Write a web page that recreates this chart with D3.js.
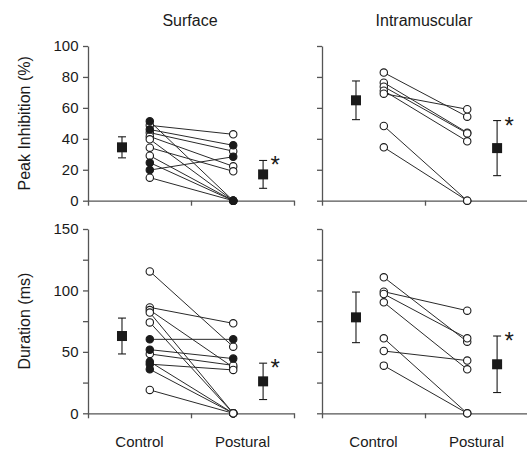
<!DOCTYPE html>
<html>
<head>
<meta charset="utf-8">
<script src="https://cdn.jsdelivr.net/npm/d3@7"></script>
<style>
  body { margin: 0; background: #fff; }
  svg { font-family: "Liberation Sans", Arial, sans-serif; }
</style>
</head>
<body>
<svg id="chart" width="527" height="452"></svg>
<script>
const groups = ["Control", "Postural"];
const muscles = ["Surface", "Intramuscular"];

// peak inhibition (%), one entry per subject
const surfPiCtrl = [51.3, 48.7, 46.0, 44.0, 41.5, 39.7, 34.3, 29.1, 24.6, 19.8, 14.9];
const surfPiPost = [0, 42.9, 35.8, 32.0, 22.2, 0, 19.0, 0, 0, 28.4, 0];
const surfPiCtrlFill = [1, 0, 1, 0, 0, 0, 0, 0, 1, 1, 0];
const surfPiPostFill = [1, 0, 1, 0, 0, 0, 0, 0, 1, 1, 0];

const intraPiCtrl = [82.8, 76.3, 73.7, 71.1, 69.2, 48.3, 34.5];
const intraPiPost = [54.3, 44.0, 43.5, 38.4, 59.1, 0, 0];

// duration (ms)
const surfDurCtrl = [115.5, 86.2, 84.0, 82.0, 74.0, 60.2, 51.8, 48.3, 42.0, 40.0, 35.8, 19.0];
const surfDurPost = [54.2, 73.2, 37.4, 0, 0, 60.2, 44.5, 39.0, 0, 35.3, 0, 0];
const surfDurCtrlFill = [0, 0, 0, 0, 0, 1, 1, 0, 1, 1, 1, 0];
const surfDurPostFill = [0, 0, 0, 0, 0, 1, 1, 0, 0, 0, 0, 0];

const intraDurCtrl = [110.7, 99.0, 97.1, 90.3, 61.0, 50.7, 38.8];
const intraDurPost = [58.3, 83.5, 61.0, 35.8, 0, 42.9, 0];

// group means and error bars (order: surf PI, intra PI, surf dur, intra dur)
const meanCtrl = [34.5, 64.9, 62.9, 78.1];
const errCtrl = [6.8, 12.5, 14.6, 20.6];
const meanPost = [17.0, 34.0, 26.0, 39.9];
const errPost = [9.0, 17.8, 14.8, 23.0];

const piTicks = [0, 20, 40, 60, 80, 100];
const durTicks = [0, 25, 50, 75, 100, 125, 150];
const durLabels = [0, 50, 100, 150];

const svg = d3.select("#chart");
const axisColor = "#555";
const ink = "#1a1a1a";

const cols = [{x0: 88, x1: 294}, {x0: 322, x1: 528}];
const rows = [
  {y0: 200.7, y1: 46, max: 100, ticks: piTicks, labels: piTicks, title: "Peak Inhibition (%)"},
  {y0: 413.3, y1: 229, max: 150, ticks: durTicks, labels: durLabels, title: "Duration (ms)"}
];

function drawPanel(r, c, ctrl, post, ctrlFill, postFill, k) {
  let row = rows[r], col = cols[c];
  let x = d3.scaleLinear().domain([0, 2]).range([col.x0, col.x1]);
  let y = d3.scaleLinear().domain([0, row.max]).range([row.y0, row.y1]);
  let g = svg.append("g");

  // axes
  let yAxis = g.append("g")
    .attr("transform", "translate(" + col.x0 + ",0)")
    .call(d3.axisLeft(y).tickValues(row.ticks).tickSize(5).tickSizeOuter(0)
      .tickFormat(function (d) { return (c === 0 && row.labels.includes(d)) ? d : ""; }));
  let xAxis = g.append("g")
    .attr("transform", "translate(0," + row.y0 + ")")
    .call(d3.axisBottom(x).tickValues([0, 1, 2]).tickSize(5).tickSizeOuter(0).tickFormat(""));
  g.selectAll(".domain, .tick line").attr("stroke", axisColor).attr("stroke-width", 1.3);
  yAxis.selectAll("text").attr("fill", ink).attr("font-size", 15).attr("dx", "-0.1em");

  // category labels under the bottom row
  if (r === 1) {
    g.selectAll(".cat").data(groups).enter().append("text")
      .attr("x", function (d, i) { return x(i + 0.5); })
      .attr("y", 447)
      .attr("text-anchor", "middle")
      .attr("font-size", 15)
      .attr("fill", ink)
      .text(function (d) { return d; });
  }

  let xc = x(0.6), xp = x(1.41);
  let subj = ctrl.map(function (v, i) {
    return {c: v, p: post[i], cf: ctrlFill ? ctrlFill[i] : 0, pf: postFill ? postFill[i] : 0};
  });

  g.selectAll(".pair").data(subj).enter().append("line")
    .attr("x1", xc).attr("x2", xp)
    .attr("y1", function (d) { return y(d.c); })
    .attr("y2", function (d) { return y(d.p); })
    .attr("stroke", "#2a2a2a").attr("stroke-width", 1);

  let pts = [];
  subj.forEach(function (d) {
    pts.push({x: xc, v: d.c, f: d.cf});
    pts.push({x: xp, v: d.p, f: d.pf});
  });
  pts.sort(function (a, b) { return a.f - b.f; });
  g.selectAll(".pt").data(pts).enter().append("circle")
    .attr("cx", function (d) { return d.x; })
    .attr("cy", function (d) { return y(d.v); })
    .attr("r", 3.7)
    .attr("fill", function (d) { return d.f ? ink : "#fff"; })
    .attr("stroke", ink).attr("stroke-width", 1.1);

  // means with error bars
  let means = [
    {x: x(0.33), m: meanCtrl[k], e: errCtrl[k]},
    {x: x(1.7), m: meanPost[k], e: errPost[k]}
  ];
  means.forEach(function (d) {
    g.append("line").attr("x1", d.x).attr("x2", d.x)
      .attr("y1", y(d.m - d.e)).attr("y2", y(d.m + d.e))
      .attr("stroke", ink).attr("stroke-width", 1.1);
    [d.m - d.e, d.m + d.e].forEach(function (v) {
      g.append("line").attr("x1", d.x - 4).attr("x2", d.x + 4)
        .attr("y1", y(v)).attr("y2", y(v))
        .attr("stroke", ink).attr("stroke-width", 1.1);
    });
    g.append("rect").attr("x", d.x - 5).attr("y", y(d.m) - 5)
      .attr("width", 10).attr("height", 10).attr("fill", ink);
  });
  let mp = means[1];
  g.append("text")
    .attr("x", mp.x + 12).attr("y", y(mp.m + mp.e) + 13)
    .attr("text-anchor", "middle").attr("font-size", 24).attr("fill", ink)
    .text("*");
}

drawPanel(0, 0, surfPiCtrl, surfPiPost, surfPiCtrlFill, surfPiPostFill, 0);
drawPanel(0, 1, intraPiCtrl, intraPiPost, null, null, 1);
drawPanel(1, 0, surfDurCtrl, surfDurPost, surfDurCtrlFill, surfDurPostFill, 2);
drawPanel(1, 1, intraDurCtrl, intraDurPost, null, null, 3);

// column titles
svg.selectAll(".coltitle").data(muscles).enter().append("text")
  .attr("x", function (d, i) { return (cols[i].x0 + cols[i].x1) / 2 - 1; })
  .attr("y", 26)
  .attr("text-anchor", "middle")
  .attr("font-size", 16)
  .attr("fill", ink)
  .text(function (d) { return d; });

// y axis titles
rows.forEach(function (row) {
  svg.append("text")
    .attr("transform", "translate(30," + ((row.y0 + row.y1) / 2) + ") rotate(-90)")
    .attr("text-anchor", "middle")
    .attr("font-size", 16)
    .attr("fill", ink)
    .text(row.title);
});
</script>
</body>
</html>
